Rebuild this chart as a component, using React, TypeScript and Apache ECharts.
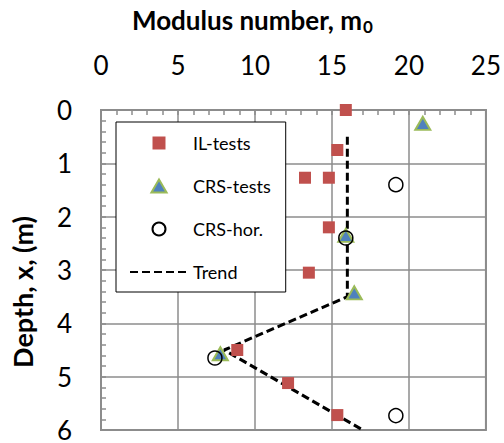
import React, { useEffect, useRef } from "react";
import * as echarts from "echarts";

const xTicks = [0, 5, 10, 15, 20, 25];
const yTicks = [0, 1, 2, 3, 4, 5, 6];

const ilTests: [number, number][] = [
  [15.9, 0.0], [15.35, 0.75], [13.25, 1.27], [14.8, 1.27], [14.8, 2.2],
  [13.5, 3.05], [8.85, 4.5], [12.15, 5.12], [15.35, 5.72],
];
const crsTests: [number, number][] = [
  [20.9, 0.25], [15.9, 2.35], [16.45, 3.43], [7.75, 4.57],
];
const crsHor: [number, number][] = [
  [19.15, 1.4], [15.9, 2.4], [7.4, 4.65], [19.15, 5.73],
];
const trend: [number, number][] = [
  [16, 0.5], [16, 3.5], [8, 4.5], [17, 6],
];

const FONT = "Lato";
const GRAY = "#8c8c8c";

export default function App() {
  const ref = useRef<HTMLDivElement>(null);
  useEffect(() => {
    if (!ref.current) return;
    const chart = echarts.init(ref.current, null, { renderer: "svg" });
    chart.setOption({
      animation: false,
      backgroundColor: "#fff",
      title: {
        left: 132,
        top: 4,
        padding: 0,
        text: "{a|Modulus number, m}{b|0}",
        textStyle: {
          rich: {
            a: { fontFamily: FONT, fontWeight: "bold", fontSize: 26, color: "#000" },
            b: { fontFamily: FONT, fontWeight: "bold", fontSize: 17, color: "#000", padding: [14, 0, 0, 1] },
          },
        },
      },
      graphic: [
        {
          type: "text",
          x: 22,
          y: 292,
          rotation: Math.PI / 2,
          style: {
            text: "Depth, x, (m)",
            fontFamily: FONT,
            fontWeight: "bold",
            fontSize: 27,
            fill: "#000",
            textAlign: "center",
            textVerticalAlign: "middle",
          },
        },
      ],
      legend: {
        orient: "vertical",
        left: 116,
        top: 122,
        padding: [11, 15, 10, 13],
        backgroundColor: "#fff",
        borderColor: "#000",
        borderWidth: 1,
        itemWidth: 58,
        itemHeight: 13,
        itemGap: 23,
        symbolKeepAspect: true,
        textStyle: { fontFamily: FONT, fontSize: 18, color: "#000", lineHeight: 20 },
        data: [
          { name: "IL-tests", icon: "path://M0,0H10V10H0Z" },
          { name: "CRS-tests", icon: "path://M7,0L14,12H0Z" },
          "CRS-hor.",
          "Trend",
        ],
      },
      grid: {
        left: 101,
        right: 15,
        top: 110,
        bottom: 9,
        show: true,
        borderColor: GRAY,
        borderWidth: 2,
        backgroundColor: "transparent",
      },
      xAxis: {
        type: "value",
        position: "top",
        min: xTicks[0],
        max: xTicks[xTicks.length - 1],
        interval: 5,
        axisLine: { show: true, lineStyle: { color: GRAY, width: 2 } },
        axisTick: { show: true, inside: true, length: 5, lineStyle: { color: GRAY, width: 1.5 } },
        minorTick: { show: true, splitNumber: 5, length: 5, lineStyle: { color: GRAY, width: 1.5 } },
        splitLine: { show: true, lineStyle: { color: GRAY, width: 1.5 } },
        axisLabel: { fontFamily: FONT, fontSize: 26, color: "#000", margin: 32 },
      },
      yAxis: {
        type: "value",
        inverse: true,
        min: yTicks[0],
        max: yTicks[yTicks.length - 1],
        interval: 1,
        axisLine: { show: true, lineStyle: { color: GRAY, width: 2 } },
        axisTick: { show: true, inside: true, length: 5, lineStyle: { color: GRAY, width: 1.5 } },
        minorTick: { show: true, splitNumber: 5, length: 5, lineStyle: { color: GRAY, width: 1.5 } },
        splitLine: { show: true, lineStyle: { color: GRAY, width: 1.5 } },
        axisLabel: { fontFamily: FONT, fontSize: 26, color: "#000", margin: 29 },
      },
      series: [
        {
          name: "Trend",
          type: "line",
          data: trend,
          symbol: "none",
          showSymbol: false,
          z: 1,
          lineStyle: { color: "#000", width: 3, type: [8, 4] },
          itemStyle: { color: "rgba(0,0,0,0)" },
        },
        {
          name: "IL-tests",
          type: "scatter",
          data: ilTests,
          symbol: "rect",
          symbolSize: 12,
          z: 3,
          itemStyle: { color: "#C0504D", opacity: 1 },
        },
        {
          name: "CRS-tests",
          type: "scatter",
          data: crsTests,
          symbol: "triangle",
          symbolSize: [15, 13],
          z: 4,
          itemStyle: { color: "#4F81BD", borderColor: "#9BBB59", borderWidth: 2, opacity: 1 },
        },
        {
          name: "CRS-hor.",
          type: "scatter",
          data: crsHor,
          symbol: "circle",
          symbolSize: 14,
          z: 5,
          itemStyle: { color: "rgba(255,255,255,0)", borderColor: "#000", borderWidth: 1.5, opacity: 1 },
        },
      ],
    });
    return () => chart.dispose();
  }, []);
  return (
    <div
      ref={ref}
      style={{ position: "absolute", left: 0, top: 0, width: 504, height: 443 }}
    />
  );
}
